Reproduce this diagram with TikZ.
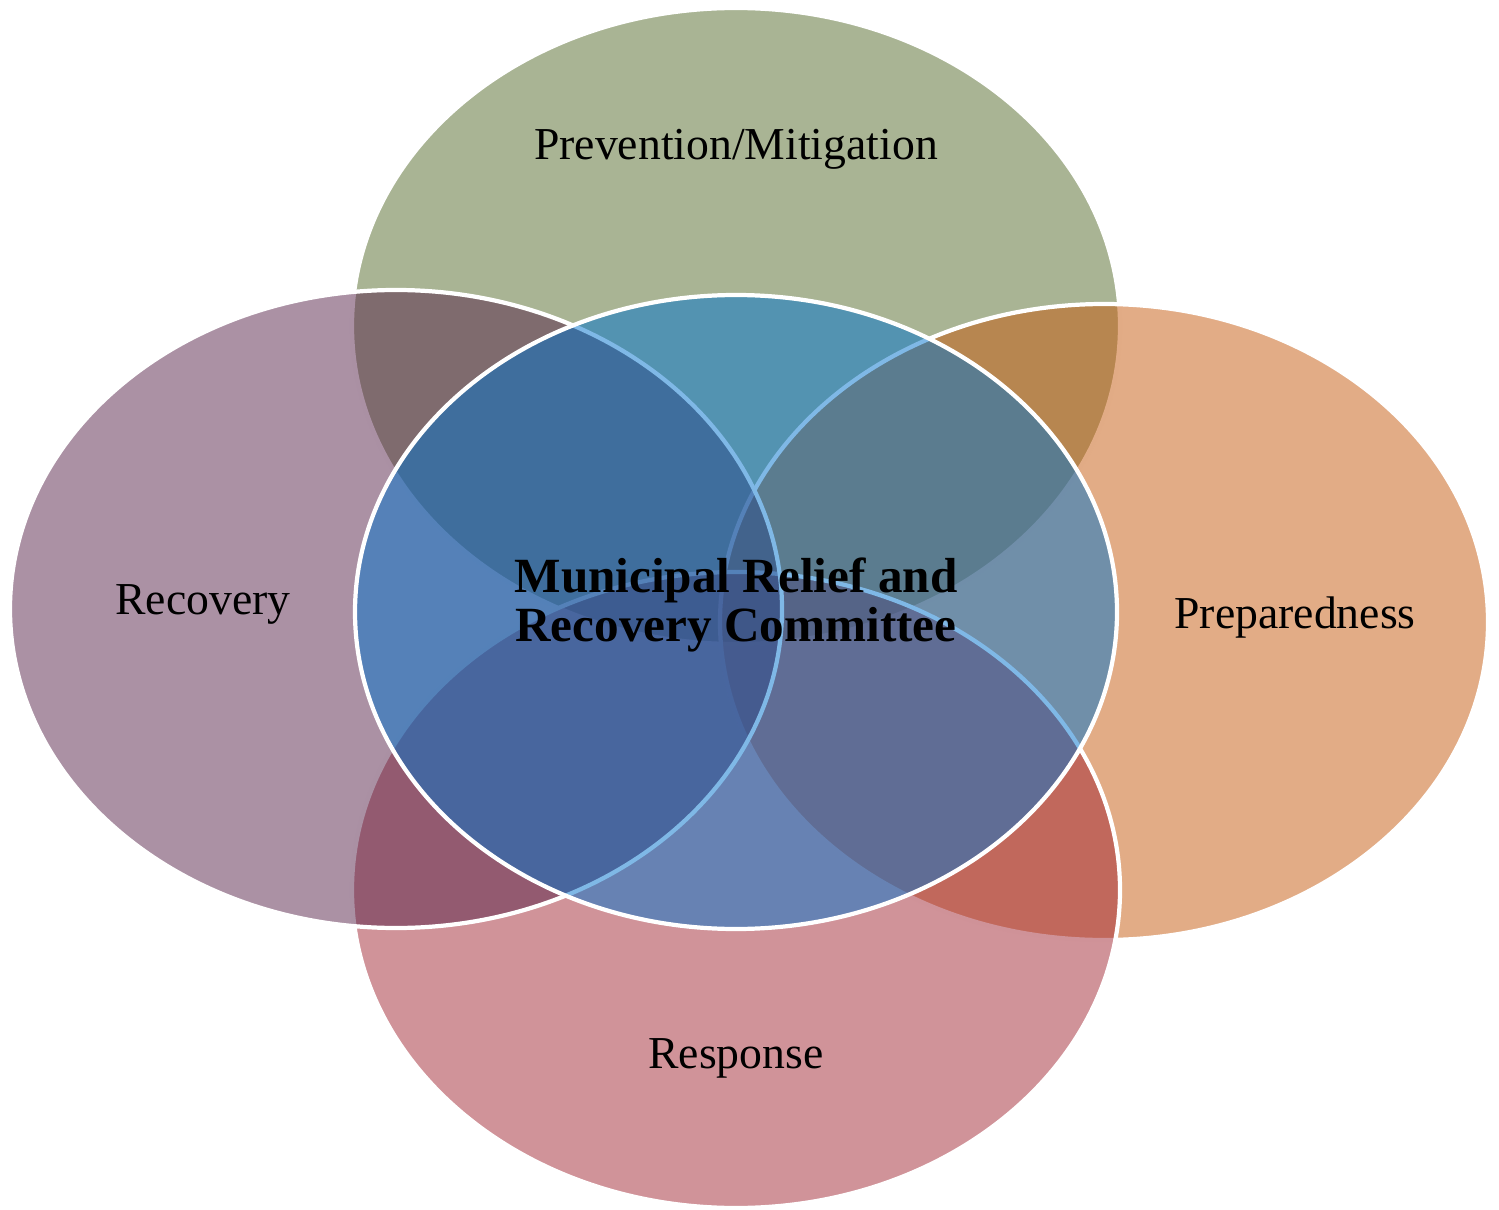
\documentclass[tikz,border=0pt]{standalone}
\usepackage{fontspec}
\setmainfont{Liberation Serif}
\definecolor{prevgreen}{RGB}{83,105,41}
\definecolor{recpurple}{RGB}{87,35,73}
\definecolor{prepor}{RGB}{197,89,13}
\definecolor{respred}{RGB}{161,39,51}
\definecolor{mrrcblue}{RGB}{0,115,206}
\tikzset{
  phase/.style={draw=white,line width=1.2pt,fill opacity=0.5},
  phasetext/.style={inner sep=0pt,font=\fontsize{13}{15}\selectfont},
}
\begin{document}
\begin{tikzpicture}
\useasboundingbox (0,0) rectangle (14.99,12.09);
% the four phases
\draw [phase,fill=prevgreen] (7.36,8.83) ellipse (3.84 and 3.18);
\draw [phase,fill=prepor] (11.04,5.87) ellipse (3.84 and 3.18);
\draw [phase,fill=respred] (7.36,3.19) ellipse (3.84 and 3.18);
\draw [phase,fill=recpurple] (3.96,6.00) ellipse (3.86 and 3.19);
% committee in the middle
\draw [phase,fill=mrrcblue] (7.36,5.97) ellipse (3.81 and 3.17);
\node [phasetext,anchor=base] (prev) at (7.36,10.49) {Prevention/Mitigation};
\node [phasetext,anchor=base] (rec) at (2.03,5.95) {Recovery};
\node [phasetext,anchor=base] (prep) at (12.95,5.81) {Preparedness};
\node [phasetext,anchor=base] (resp) at (7.36,1.41) {Response};
\node [inner sep=0pt,align=center,font=\bfseries\fontsize{14}{13.7}\selectfont] (mrrc) at (7.36,6.04)
  {Municipal Relief and\\Recovery Committee};
\end{tikzpicture}
\end{document}
